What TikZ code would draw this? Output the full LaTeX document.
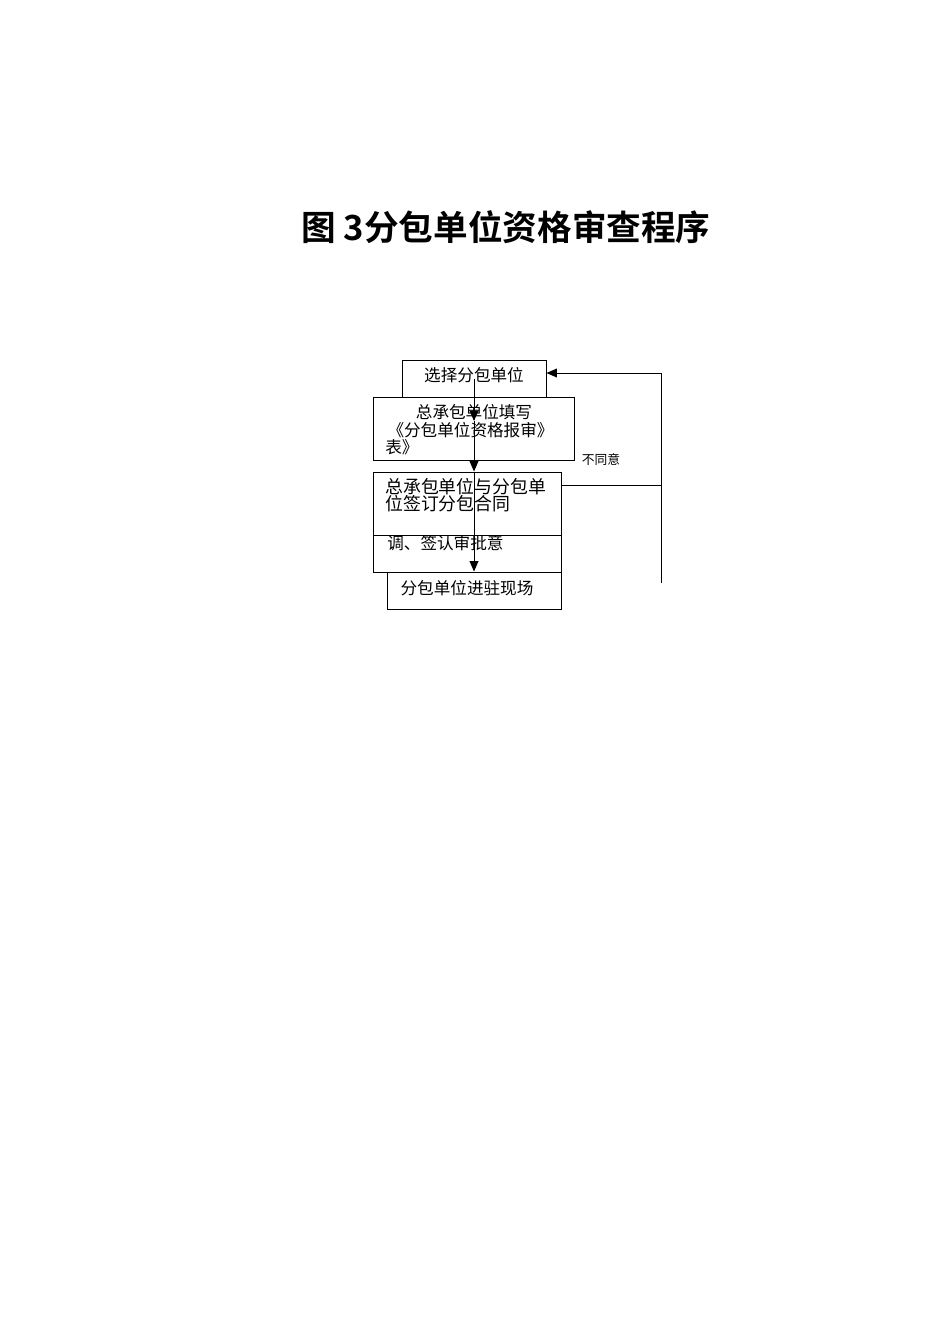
\documentclass[tikz,border=0pt]{standalone}
\usepackage{fontspec}
\newfontfamily\cjk{Noto Sans CJK SC}[BoldFont={* Bold}]
\usetikzlibrary{arrows.meta,fit}
\begin{document}
\begin{tikzpicture}[x=0.6266pt,y=-0.6266pt,
  box/.style={draw,line width=0.6pt,inner sep=0pt,fill=white},
  txt/.style={inner sep=0pt,font=\cjk\fontsize{10.4pt}{12pt}\selectfont},
  txtb/.style={inner sep=0pt,font=\cjk\fontsize{11.2pt}{13pt}\selectfont},
  small/.style={inner sep=0pt,font=\cjk\fontsize{8pt}{9pt}\selectfont},
  line/.style={line width=0.6pt},
  arr/.style={line width=0.6pt,-{Triangle[length=6.5pt,width=5.5pt]}}]
\useasboundingbox[fill=white] (0,0) rectangle (950,1344);
% title
\node[inner sep=0pt,font=\cjk\bfseries\fontsize{21.7pt}{24pt}\selectfont] (title) at (506,227) {图 3分包单位资格审查程序};
% boxes
\node[box,fit={(402,360) (546,397)}] (b1) {};
\node[box,fit={(373,397) (574,460)}] (b2) {};
\node[box,fit={(373,505) (561,572)}] (b4) {};
\node[txt,anchor=west] (t4) at (387,543.5) {调、签认审批意};
\node[box,fit={(373,472) (561,535)}] (b3) {};
\node[box,fit={(387,572) (561,609)}] (b5) {};
% texts
\node[txt] (t1) at (474,375) {选择分包单位};
\node[txt] (t2a) at (474,412) {总承包单位填写};
\node[txt] (t2b) at (470.5,430) {《分包单位资格报审》};
\node[txt,anchor=west] (t2c) at (385,447) {表》};
\node[txtb,anchor=west] (t3a) at (385,487) {总承包单位与分包单};
\node[txtb,anchor=west] (t3b) at (385,504) {位签订分包合同};
\node[txt] (t5) at (467,588) {分包单位进驻现场};
\node[small] (no) at (601,460) {不同意};
% main arrow
\coordinate (m1) at (474,421);
\draw[arr] (b1.center) -- (m1);
\draw[arr] (m1) -- (m1 |- b3.north);
\draw[arr] (m1 |- b3.north) -- (b5.north);
% loop back
\coordinate (r1) at (661,485);
\coordinate (rt) at (661,373);
\coordinate (rb) at (661,583);
\draw[line] (b3.east |- r1) -- (r1);
\draw[arr] (rb) -- (rt) -- (b1.east |- rt);
\end{tikzpicture}
\end{document}
